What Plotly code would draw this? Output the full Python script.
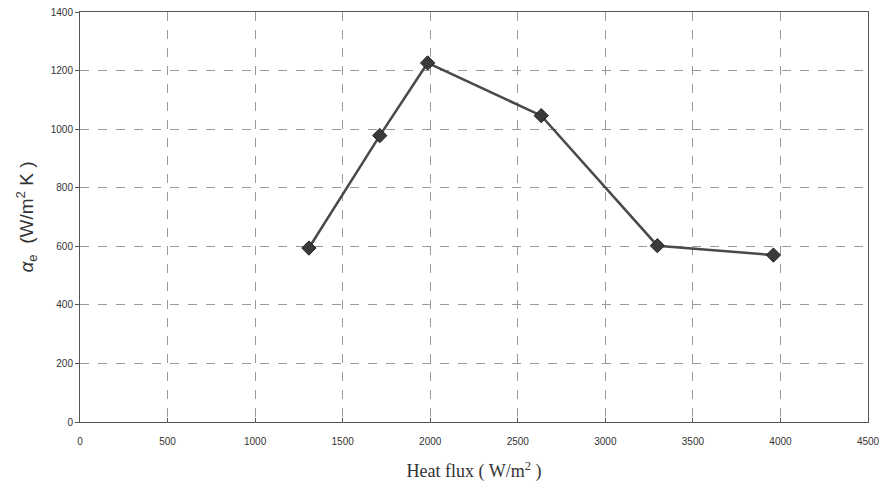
import plotly.graph_objects as go

heat_flux = [1307, 1712, 1985, 2634, 3297, 3960]
alpha_e = [594, 978, 1226, 1046, 602, 570]

x_ticks = [0, 500, 1000, 1500, 2000, 2500, 3000, 3500, 4000, 4500]
y_ticks = [0, 200, 400, 600, 800, 1000, 1200, 1400]

fig = go.Figure()
fig.add_trace(go.Scatter(
    x=heat_flux, y=alpha_e, mode="lines+markers",
    line=dict(color="#4a4a4a", width=2.5),
    marker=dict(symbol="diamond", size=11, color="#3a3a3a",
                line=dict(color="#222222", width=1)),
    showlegend=False,
))

fig.update_layout(
    width=882, height=494,
    margin=dict(l=80, r=14, t=12, b=72),
    paper_bgcolor="white", plot_bgcolor="white",
    font=dict(family="Liberation Sans, Arial", color="#333333", size=10),
)
fig.update_xaxes(
    range=[0, 4500], tickvals=x_ticks, ticktext=[str(v) for v in x_ticks],
    showgrid=True, gridcolor="#9a9a9a", griddash="dash", gridwidth=1,
    showline=True, linecolor="#555555", linewidth=1, mirror=True,
    ticks="inside", ticklen=4, tickcolor="#555555",
    zeroline=False, ticklabelstandoff=10, automargin=False,
    ticklabeloverflow="allow",
    tickfont=dict(size=10, family="Liberation Sans Narrow, Liberation Sans, Arial"),
    title=dict(text="Heat flux ( W/m<sup>2</sup> )",
               font=dict(family="Liberation Serif, Times New Roman", size=18, color="#333333"),
               standoff=18),
)
fig.update_yaxes(
    range=[0, 1400], tickvals=y_ticks,
    showgrid=True, gridcolor="#9a9a9a", griddash="dash", gridwidth=1,
    showline=True, linecolor="#555555", linewidth=1, mirror=True,
    ticks="outside", ticklen=4, tickcolor="#555555",
    zeroline=False, automargin=False, ticklabeloverflow="allow",
    tickfont=dict(size=10),
    title=dict(text="<i>α</i><sub>e</sub>  (W/m<sup>2</sup> K )",
               font=dict(family="Liberation Sans, Arial", size=19, color="#333333"),
               standoff=12),
)

fig.write_html("out.html")
